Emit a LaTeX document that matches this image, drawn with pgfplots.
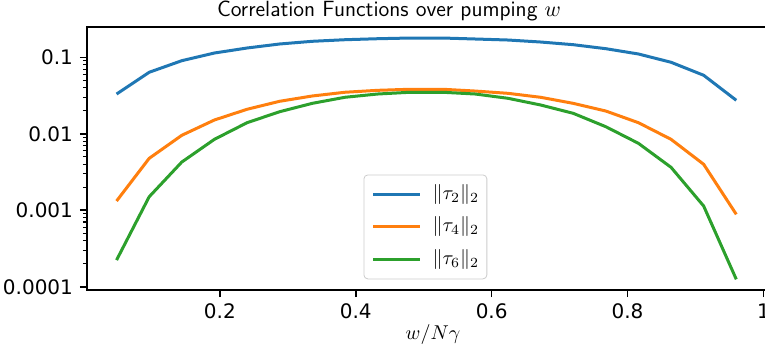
\documentclass[border=0pt]{standalone}
\usepackage{pgfplots}
\pgfplotsset{compat=1.18}
\usepackage{fontspec}
\setmainfont{DejaVu Sans}
\definecolor{c0}{HTML}{1F77B4}
\definecolor{c1}{HTML}{FF7F0E}
\definecolor{c2}{HTML}{2CA02C}
\usepackage{pgfplotstable}
\pgfplotstableread{
x blue orange green
0.048 0.0331 0.00132 0.000223
0.096 0.0637 0.00477 0.00150
0.144 0.0903 0.00955 0.00427
0.192 0.1138 0.01514 0.00846
0.240 0.1323 0.0209 0.01395
0.288 0.1493 0.0266 0.01943
0.336 0.1619 0.0312 0.0250
0.384 0.1698 0.0349 0.0300
0.432 0.1750 0.0370 0.0331
0.480 0.1787 0.0382 0.0349
0.528 0.1787 0.0382 0.0349
0.576 0.1735 0.0362 0.0331
0.624 0.1683 0.0338 0.0291
0.672 0.1585 0.0300 0.0238
0.720 0.1462 0.0250 0.01852
0.768 0.1296 0.01984 0.01237
0.816 0.1105 0.01396 0.0075
0.864 0.0861 0.00846 0.00364
0.912 0.0582 0.00399 0.001135
0.960 0.0274 0.000884 0.000125
}\datatable
\begin{document}
\begin{tikzpicture}
\begin{axis}[
  at={(0pt,0pt)}, anchor=south west,
  scale only axis, width=340.1pt, height=131.65pt,
  ymode=log,
  xmin=0.0045, xmax=1.0055,
  ymin=9.06e-5, ymax=0.2512,
  axis line style={line width=0.8pt},
  tick align=outside,
  xtick pos=bottom, ytick pos=left,
  major tick length=3.5pt, minor tick length=2pt,
  every tick/.style={black, line width=0.8pt},
  minor tick style={line width=0.6pt},
  xtick={0.2,0.4,0.6,0.8,1.0},
  xticklabels={0.2,0.4,0.6,0.8,1},
  ytick={0.0001,0.001,0.01,0.1},
  yticklabels={0.0001,0.001,0.01,0.1},
  /pgf/number format/assume math mode=true,
  tick label style={font=\fontsize{10}{12}\selectfont},
  every axis title shift=0pt,
  title={\fontsize{11}{13}\selectfont\sffamily Correlation Functions over pumping $w$},
  title style={at={(0.444,1)}, anchor=base, yshift=5.1pt, inner sep=0pt},
  xlabel={$w/N\gamma$},
  xlabel style={at={(0.5087,0)}, anchor=base, yshift=-24.5pt, inner sep=0pt},
  legend style={at={(0.4065,0.0406)}, anchor=south west, draw=black!20,
    rounded corners=2pt, fill=white, fill opacity=0.8, draw opacity=1, text opacity=1,
    inner xsep=3.85pt, inner ysep=4.6pt, row sep=6.4pt,
    /tikz/every odd column/.append style={column sep=5.3pt},
    nodes={inner sep=0pt, text height=7.5pt, text depth=2.5pt}},
  legend cell align=left,
  legend image code/.code={\draw[#1,line width=1.5pt] (0pt,0pt) -- (23.65pt,0pt);},
  every axis plot/.append style={line width=1.5pt},
]
\addplot[c0, no marks] table[x=x, y=blue] {\datatable};
\addlegendentry{$\Vert\tau_2\Vert_2$}
\addplot[c1, no marks] table[x=x, y=orange] {\datatable};
\addlegendentry{$\Vert\tau_4\Vert_2$}
\addplot[c2, no marks] table[x=x, y=green] {\datatable};
\addlegendentry{$\Vert\tau_6\Vert_2$}
\end{axis}
\pgfresetboundingbox
\useasboundingbox (-43.5pt,-34.5pt) rectangle (339pt,145pt);
\end{tikzpicture}
\end{document}
